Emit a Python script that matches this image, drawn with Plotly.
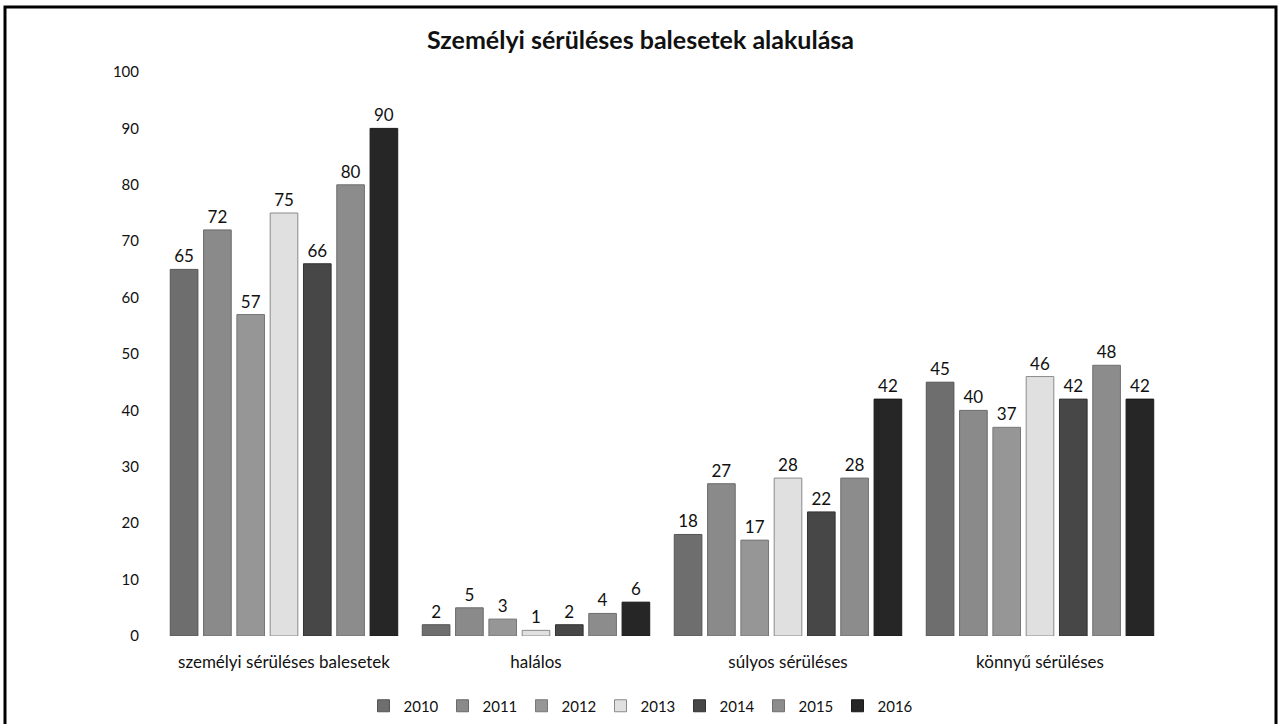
import plotly.graph_objects as go

categories = ["személyi sérüléses balesetek", "halálos", "súlyos sérüléses", "könnyű sérüléses"]
years = ["2010", "2011", "2012", "2013", "2014", "2015", "2016"]
v2010 = [65, 2, 18, 45]
v2011 = [72, 5, 27, 40]
v2012 = [57, 3, 17, 37]
v2013 = [75, 1, 28, 46]
v2014 = [66, 2, 22, 42]
v2015 = [80, 4, 28, 48]
v2016 = [90, 6, 42, 42]
series = [v2010, v2011, v2012, v2013, v2014, v2015, v2016]
colors = ["#6e6e6e", "#8a8a8a", "#969696", "#e0e0e0", "#474747", "#8c8c8c", "#262626"]
line_colors = ["#555555", "#6a6a6a", "#777777", "#8a8a8a", "#333333", "#6f6f6f", "#1a1a1a"]

FONT = "Lato, 'Open Sans', sans-serif"

fig = go.Figure()
for y, vals, c, lc in zip(years, series, colors, line_colors):
    fig.add_trace(go.Bar(
        name=y, x=categories, y=vals,
        marker=dict(color=c, line=dict(color=lc, width=1)),
        text=[str(v) for v in vals], textposition="outside",
        textfont=dict(size=17, color="#111111", family=FONT),
        constraintext="none", cliponaxis=False,
    ))

fig.update_layout(
    template="none",
    width=1281, height=724,
    margin=dict(l=158, r=115, t=72, b=88, pad=0),
    paper_bgcolor="white", plot_bgcolor="white",
    barmode="group", bargap=0.075, bargroupgap=0.17,
    font=dict(family=FONT, size=14, color="#111111"),
    title=dict(text="<b>Személyi sérüléses balesetek alakulása</b>",
               x=0.5, xanchor="center", xref="container", y=1 - 40 / 724, yanchor="middle",
               font=dict(size=25, family=FONT, color="#111111")),
    showlegend=True,
    legend=dict(orientation="h", xref="container", yref="container",
                x=640 / 1281, xanchor="center",
                y=(724 - 706) / 724, yanchor="middle",
                font=dict(size=15, family=FONT), traceorder="normal",
                entrywidth=34, entrywidthmode="pixels",
                bgcolor="rgba(0,0,0,0)"),
    xaxis=dict(showline=False, showgrid=False, ticks="", tickfont=dict(size=17),
               automargin=False, ticklabelstandoff=14),
    yaxis=dict(range=[0, 100], dtick=10, showgrid=False, showline=False, zeroline=False,
               ticks="", tickfont=dict(size=15), ticklabelstandoff=18, automargin=False),
    shapes=[dict(type="rect", xref="paper", yref="paper",
                 x0=(5 - 158) / 1008, x1=(1276 - 158) / 1008,
                 y0=(636 - 740) / 564, y1=(636 - 7) / 564,
                 line=dict(color="black", width=3))],
)

fig.write_html("out.html", config={"displayModeBar": False},
               post_script="document.body.style.margin='0';document.body.style.overflow='hidden';")
